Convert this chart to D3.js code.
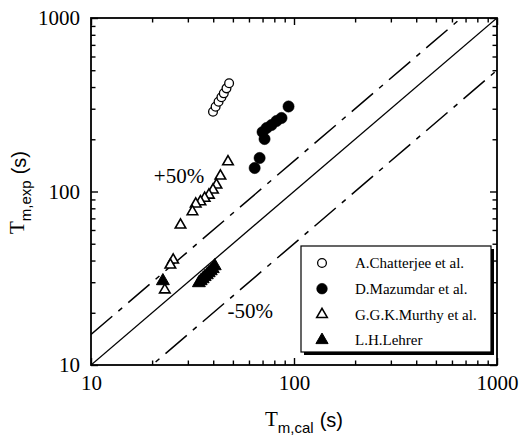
<!DOCTYPE html>
<html>
<head>
<meta charset="utf-8">
<script src="https://cdn.jsdelivr.net/npm/d3@7"></script>
<style>
  body { margin: 0; background: #fff; }
  svg { display: block; }
</style>
</head>
<body>
<svg id="chart" width="526" height="437"></svg>
<script>
// Axis ticks (log scale, both axes)
const majorTicks = [10, 100, 1000];
const majorTickLabels = ["10", "100", "1000"];
const minorTicks = [20, 30, 40, 50, 60, 70, 80, 90, 200, 300, 400, 500, 600, 700, 800, 900];

// Calculated vs. experimental mixing time (s), per source
const chatterjeeCal = [39.9, 41.1, 42.5, 43.9, 45.1, 46.5, 47.9];
const chatterjeeExp = [288, 308, 329, 349, 368, 393, 421];

const mazumdarCal = [64.0, 67.7, 71.6, 70.0, 73.3, 77.5, 82.0, 86.8, 94.0];
const mazumdarExp = [136.6, 156.0, 200.7, 220.2, 232.3, 241.7, 254.9, 265.3, 309];

const murthyCal = [47.3, 43.4, 41.5, 39.9, 38.1, 36.3, 34.6, 32.8, 31.6, 27.6, 25.4, 24.6, 23.1];
const murthyExp = [148.5, 122.8, 109.0, 102.0, 95.4, 91.4, 87.3, 84.7, 76.5, 64.1, 40.3, 37.7, 27.1];

const lehrerCal = [22.6, 34.0, 34.7, 35.5, 36.3, 37.2, 38.0, 38.9, 39.8, 40.7];
const lehrerExp = [30.5, 29.7, 30.5, 31.3, 32.2, 33.0, 33.9, 34.8, 35.8, 37.2];

const seriesNames = ["A.Chatterjee et al.", "D.Mazumdar et al.", "G.G.K.Murthy et al.", "L.H.Lehrer"];

// Reference lines: exp = factor * cal
const parityFactor = 1;
const bandFactors = [1.5, 0.5];
const bandLabels = ["+50%", "-50%"];
const bandLabelAnchors = [[20.4, 112], [47.1, 18.7]];   // data coordinates of label start

const svg = d3.select("#chart");
const plot = { left: 91, right: 497, top: 18, bottom: 365 };

const x = d3.scaleLog().domain([10, 1000]).range([plot.left, plot.right]);
const y = d3.scaleLog().domain([10, 1000]).range([plot.bottom, plot.top]);

const serif = "'Liberation Serif', 'Times New Roman', serif";
const sans = "'Liberation Sans', Arial, sans-serif";

// Clip for everything inside the frame
svg.append("defs").append("clipPath").attr("id", "plot-clip")
  .append("rect")
  .attr("x", plot.left).attr("y", plot.top)
  .attr("width", plot.right - plot.left).attr("height", plot.bottom - plot.top);

const inner = svg.append("g").attr("clip-path", "url(#plot-clip)");

// Diagonal reference lines
const domainEnds = x.domain();
const diag = f => d3.line()
  .x(d => x(d))
  .y(d => y(d * f))(domainEnds);

inner.append("path")
  .attr("d", diag(parityFactor))
  .attr("fill", "none").attr("stroke", "#000").attr("stroke-width", 1.3);

bandFactors.forEach(f => {
  inner.append("path")
    .attr("d", diag(f))
    .attr("fill", "none").attr("stroke", "#000").attr("stroke-width", 1.5)
    .attr("stroke-dasharray", "28,8,5,8");
});

// Band labels
bandLabels.forEach((t, i) => {
  svg.append("text")
    .attr("x", x(bandLabelAnchors[i][0]))
    .attr("y", y(bandLabelAnchors[i][1]))
    .attr("font-family", serif).attr("font-size", 21)
    .text(t);
});

// Markers
const zip = (a, b) => a.map((v, i) => [v, b[i]]);
const styles = [
  { type: d3.symbolCircle, size: 60, fill: "#fff", stroke: "#000", sw: 1.3 },
  { type: d3.symbolCircle, size: 100, fill: "#000", stroke: "#000", sw: 0.5 },
  { type: d3.symbolTriangle, size: 48, fill: "#fff", stroke: "#000", sw: 1.6 },
  { type: d3.symbolTriangle, size: 72, fill: "#000", stroke: "#000", sw: 1 }
];
const seriesData = [
  zip(chatterjeeCal, chatterjeeExp),
  zip(mazumdarCal, mazumdarExp),
  zip(murthyCal, murthyExp),
  zip(lehrerCal, lehrerExp)
];

const drawOrder = [0, 1, 3, 2];
drawOrder.forEach(si => {
  const st = styles[si];
  inner.append("g").selectAll("path")
    .data(seriesData[si])
    .join("path")
    .attr("transform", d => `translate(${x(d[0])},${y(d[1])})`)
    .attr("d", d3.symbol().type(st.type).size(st.size)())
    .attr("fill", st.fill).attr("stroke", st.stroke).attr("stroke-width", st.sw);
});

// Axes with inward ticks on all four sides
function styleAxis(g) {
  g.select(".domain").remove();
  g.selectAll("line").attr("stroke", "#000").attr("stroke-width", 1.4);
  g.selectAll("text").attr("font-family", serif).attr("font-size", 21).attr("fill", "#000");
}
const fmt = d => majorTickLabels[majorTicks.indexOf(d)];

svg.append("g").attr("transform", `translate(0,${plot.bottom})`)
  .call(d3.axisBottom(x).tickValues(majorTicks).tickFormat(fmt).tickSize(-7).tickPadding(10))
  .call(styleAxis);
svg.append("g").attr("transform", `translate(0,${plot.bottom})`)
  .call(d3.axisBottom(x).tickValues(minorTicks).tickFormat("").tickSize(-4.5))
  .call(styleAxis);
svg.append("g").attr("transform", `translate(0,${plot.top})`)
  .call(d3.axisTop(x).tickValues(majorTicks).tickFormat("").tickSize(-7))
  .call(styleAxis);
svg.append("g").attr("transform", `translate(0,${plot.top})`)
  .call(d3.axisTop(x).tickValues(minorTicks).tickFormat("").tickSize(-4.5))
  .call(styleAxis);

svg.append("g").attr("transform", `translate(${plot.left},0)`)
  .call(d3.axisLeft(y).tickValues(majorTicks).tickFormat(fmt).tickSize(-7).tickPadding(11))
  .call(styleAxis);
svg.append("g").attr("transform", `translate(${plot.left},0)`)
  .call(d3.axisLeft(y).tickValues(minorTicks).tickFormat("").tickSize(-4.5))
  .call(styleAxis);
svg.append("g").attr("transform", `translate(${plot.right},0)`)
  .call(d3.axisRight(y).tickValues(majorTicks).tickFormat("").tickSize(-7))
  .call(styleAxis);
svg.append("g").attr("transform", `translate(${plot.right},0)`)
  .call(d3.axisRight(y).tickValues(minorTicks).tickFormat("").tickSize(-4.5))
  .call(styleAxis);

// Frame
svg.append("rect")
  .attr("x", plot.left).attr("y", plot.top)
  .attr("width", plot.right - plot.left).attr("height", plot.bottom - plot.top)
  .attr("fill", "none").attr("stroke", "#000").attr("stroke-width", 1.8);

// Axis titles
const xTitle = svg.append("text")
  .attr("x", 265).attr("y", 426)
  .attr("font-family", serif).attr("font-size", 21);
xTitle.append("tspan").text("T");
xTitle.append("tspan").attr("font-family", sans).attr("font-size", 15).attr("dy", 7).text("m,cal");
xTitle.append("tspan").attr("font-family", sans).attr("font-size", 20).attr("dy", -6).attr("dx", 6).text("(s)");

const yTitle = svg.append("text")
  .attr("transform", "translate(24,234) rotate(-90)")
  .attr("font-family", serif).attr("font-size", 21);
yTitle.append("tspan").text("T");
yTitle.append("tspan").attr("font-family", sans).attr("font-size", 15).attr("dy", 7).text("m,exp");
yTitle.append("tspan").attr("font-family", sans).attr("font-size", 20).attr("dy", -5).attr("dx", 6).text("(s)");

// Legend with drop shadow
const lg = { x: 301, y: 246, w: 190, h: 106 };
svg.append("rect").attr("x", lg.x + 3).attr("y", lg.y + 3).attr("width", lg.w).attr("height", lg.h).attr("fill", "#000");
svg.append("rect").attr("x", lg.x).attr("y", lg.y).attr("width", lg.w).attr("height", lg.h)
  .attr("fill", "#fff").attr("stroke", "#000").attr("stroke-width", 1.2);

const legendRowY = i => lg.y + 17 + i * 25.7;
const legendSizes = [60, 90, 48, 64];
seriesNames.forEach((name, i) => {
  const st = styles[i];
  svg.append("path")
    .attr("transform", `translate(${lg.x + 21},${legendRowY(i)})`)
    .attr("d", d3.symbol().type(st.type).size(legendSizes[i])())
    .attr("fill", st.fill).attr("stroke", st.stroke).attr("stroke-width", st.sw);
  svg.append("text")
    .attr("x", lg.x + 54).attr("y", legendRowY(i)).attr("dy", "0.35em")
    .attr("font-family", serif).attr("font-size", 15)
    .text(name);
});
</script>
</body>
</html>
